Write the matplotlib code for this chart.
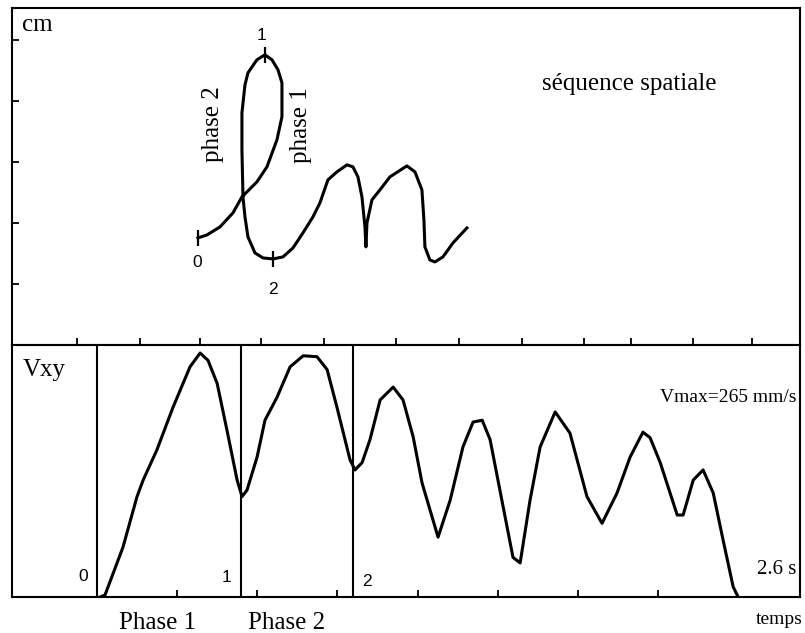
import numpy as np
import matplotlib
matplotlib.use('agg')
import matplotlib.pyplot as plt

# trajectoire spatiale (cm)
traj_x = [3.049, 3.197, 3.410, 3.623, 3.770, 4.016, 4.180, 4.344, 4.426, 4.426, 4.361, 4.262,
          4.148, 4.016, 3.869, 3.820, 3.770, 3.770, 3.787, 3.820, 3.869, 3.984, 4.115, 4.279,
          4.443, 4.607, 4.770, 4.934, 5.049, 5.180, 5.328, 5.492, 5.590, 5.672, 5.738, 5.787,
          5.803, 5.820, 5.902, 6.033, 6.197, 6.475, 6.607, 6.721, 6.754, 6.770, 6.852, 6.934,
          7.066, 7.230, 7.459]
traj_y = [1.754, 1.803, 1.934, 2.164, 2.426, 2.672, 2.918, 3.361, 3.738, 4.295, 4.508, 4.672,
          4.754, 4.672, 4.459, 4.262, 3.803, 3.197, 2.426, 2.098, 1.770, 1.508, 1.426, 1.410,
          1.443, 1.590, 1.836, 2.098, 2.328, 2.705, 2.836, 2.951, 2.918, 2.754, 2.426, 1.934,
          1.607, 2.000, 2.377, 2.541, 2.754, 2.934, 2.836, 2.541, 2.049, 1.607, 1.393, 1.361,
          1.443, 1.672, 1.918]
marks_idx = [0, 12, 23]          # points 0, 1, 2
marks_lbl = ['0', '1', '2']
top_xticks = [1.07, 2.10, 3.08, 4.08, 5.11, 6.30, 7.33, 8.36, 9.38, 10.15, 11.16, 12.13]
top_yticks = [1, 2, 3, 4, 5]

# vitesse tangentielle
t_s = [0.012, 0.032, 0.105, 0.162, 0.187, 0.243, 0.308, 0.377, 0.418, 0.450, 0.487, 0.527,
       0.568, 0.588, 0.608, 0.649, 0.681, 0.730, 0.783, 0.836, 0.892, 0.933, 0.973, 1.026,
       1.046, 1.075, 1.107, 1.148, 1.201, 1.241, 1.282, 1.318, 1.383, 1.432, 1.484, 1.525,
       1.562, 1.594, 1.647, 1.687, 1.716, 1.756, 1.797, 1.858, 1.918, 1.987, 2.048, 2.109,
       2.162, 2.214, 2.243, 2.284, 2.353, 2.377, 2.418, 2.458, 2.499, 2.539, 2.580, 2.600]
v_mm_s = [0, 2, 54, 109, 127, 160, 206, 250, 265, 257, 232, 181,
          127, 109, 116, 152, 192, 217, 250, 262, 261, 247, 206, 149,
          138, 146, 171, 214, 228, 214, 174, 124, 65, 105, 163, 190,
          192, 171, 98, 43, 37, 105, 163, 201, 178, 109, 80, 113,
          152, 179, 173, 146, 89, 89, 127, 138, 113, 62, 11, 0]
phase_t = [0.0, 0.584, 1.038]
phase_lbl = ['0', '1', '2']
bot_xticks = [2.6 / 8 * k for k in range(1, 8)]

serif = 'Liberation Serif'
sans = 'Liberation Sans'

fig = plt.figure(figsize=(8.05, 6.33), dpi=100)
W, H = 805., 633.
ax1 = fig.add_axes([12 / W, (633 - 345) / H, 788 / W, 337 / H])
ax2 = fig.add_axes([12 / W, (633 - 597) / H, 788 / W, 252 / H])

for ax in (ax1, ax2):
    for s in ax.spines.values():
        s.set_linewidth(1.5)
    ax.tick_params(direction='in', length=5, width=1.3, labelleft=False, labelbottom=False)

# --- haut
ax1.plot(traj_x, traj_y, color='black', lw=2.2, solid_joinstyle='round')
for i in marks_idx:
    ax1.plot(traj_x[i], traj_y[i], marker='|', ms=11, mew=1.6, color='black')
ax1.set_xlim(0, 12.92)
ax1.set_ylim(0, 5.52)
ax1.set_xticks(top_xticks)
ax1.set_yticks(top_yticks)

ax1.text(0.0127, 0.95, 'cm', transform=ax1.transAxes, family=serif, fontsize=18, va='center')
ax1.text(0.783, 0.774, 'séquence spatiale', transform=ax1.transAxes, family=serif, fontsize=18,
         ha='center', va='center')
ax1.text(0.255, 0.656, 'phase 2', transform=ax1.transAxes, family=serif, fontsize=18,
         rotation=90, ha='center', va='center')
ax1.text(0.367, 0.653, 'phase 1', transform=ax1.transAxes, family=serif, fontsize=18,
         rotation=90, ha='center', va='center')
for (px, py), lbl in zip([(0.235, 0.246), (0.317, 0.917), (0.331, 0.166)], marks_lbl):
    ax1.text(px, py, lbl, transform=ax1.transAxes, family=sans, fontsize=12.5,
             ha='center', va='center')

# --- bas
ax2.plot(t_s, v_mm_s, color='black', lw=2.2, solid_joinstyle='round')
for t in phase_t:
    ax2.axvline(t, color='black', lw=1.5)
ax2.set_xlim(-0.345, 2.851)
ax2.set_ylim(0, 273.7)
ax2.set_xticks(bot_xticks)
ax2.set_yticks([])

ax2.text(0.014, 0.901, 'Vxy', transform=ax2.transAxes, family=serif, fontsize=18, va='center')
ax2.text(0.996, 0.79, 'Vmax=265 mm/s', transform=ax2.transAxes, family=serif, fontsize=14,
         ha='right', va='center')
ax2.text(0.996, 0.111, '2.6 s', transform=ax2.transAxes, family=serif, fontsize=15,
         ha='right', va='center')
for (px, py), lbl in zip([(0.09, 0.083), (0.272, 0.079), (0.451, 0.06)], phase_lbl):
    ax2.text(px, py, lbl, transform=ax2.transAxes, family=sans, fontsize=12.5,
             ha='center', va='center')
ax2.text(0.185, -0.103, 'Phase 1', transform=ax2.transAxes, family=serif, fontsize=18,
         ha='center', va='center')
ax2.text(0.349, -0.103, 'Phase 2', transform=ax2.transAxes, family=serif, fontsize=18,
         ha='center', va='center')
ax2.text(1.004, -0.091, 'temps', transform=ax2.transAxes, family=serif, fontsize=14,
         ha='right', va='center')

fig.savefig('out.png', dpi=100)
